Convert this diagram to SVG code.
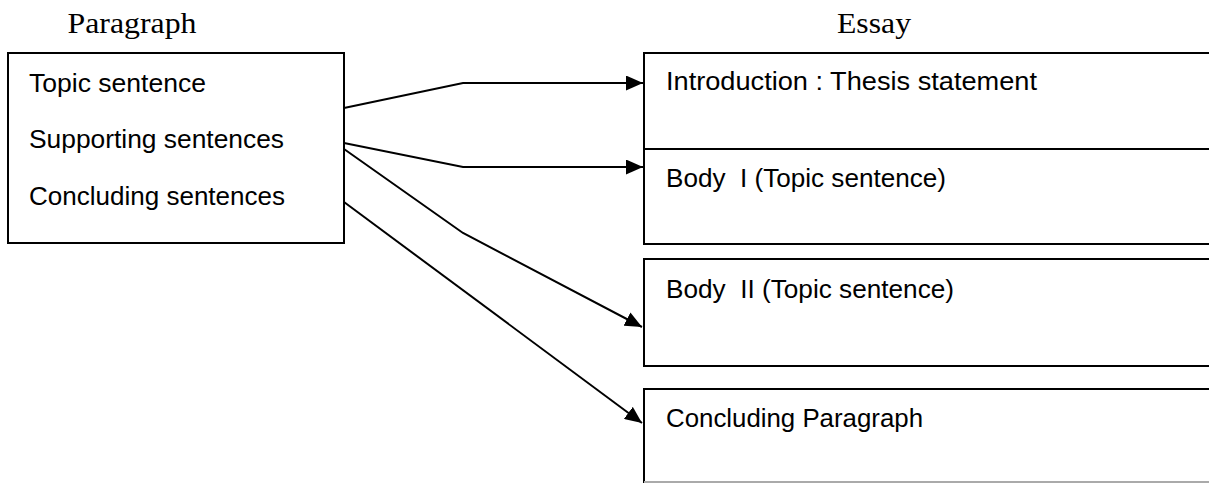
<svg xmlns="http://www.w3.org/2000/svg" width="1209" height="483" viewBox="0 0 1209 483">
<style>
.box{fill:none;stroke:#000;stroke-width:2}
.lbl{font-family:"Liberation Sans",Arial,sans-serif;font-size:25px;fill:#000}
.ttl{font-family:"Liberation Serif","Times New Roman",serif;font-size:29px;fill:#000}
.conn{fill:none;stroke:#000;stroke-width:2;marker-end:url(#ah)}
</style>
<defs>
<marker id="ah" markerUnits="userSpaceOnUse" markerWidth="17" markerHeight="15" refX="17" refY="7.5" orient="auto">
<path d="M0,0 L17,7.5 L0,15 z" fill="#000"/>
</marker>
</defs>
<rect width="1209" height="483" fill="#fff"/>
<text class="ttl" x="132" y="33" text-anchor="middle" textLength="129" lengthAdjust="spacingAndGlyphs">Paragraph</text>
<text class="ttl" x="874" y="33" text-anchor="middle" textLength="74" lengthAdjust="spacingAndGlyphs">Essay</text>
<g id="paragraph">
<rect class="box" x="8" y="53" width="336" height="190"/>
<text class="lbl" x="29" y="92" textLength="177" lengthAdjust="spacingAndGlyphs">Topic sentence</text>
<text class="lbl" x="29" y="148" textLength="255" lengthAdjust="spacingAndGlyphs">Supporting sentences</text>
<text class="lbl" x="29" y="205" textLength="256" lengthAdjust="spacingAndGlyphs">Concluding sentences</text>
</g>
<g id="introduction">
<rect class="box" x="644" y="53" width="580" height="96"/>
<text class="lbl" x="666" y="90" textLength="371" lengthAdjust="spacingAndGlyphs">Introduction : Thesis statement</text>
</g>
<g id="body1">
<rect class="box" x="644" y="149" width="580" height="95"/>
<text class="lbl" x="666" y="187" textLength="280" lengthAdjust="spacingAndGlyphs" xml:space="preserve">Body  I (Topic sentence)</text>
</g>
<g id="body2">
<rect class="box" x="644" y="259" width="580" height="107"/>
<text class="lbl" x="666" y="298" textLength="288" lengthAdjust="spacingAndGlyphs" xml:space="preserve">Body  II (Topic sentence)</text>
</g>
<g id="conclusion">
<path d="M644,483 L644,389 L1224,389" fill="none" stroke="#000" stroke-width="2"/>
<line x1="644" y1="482" x2="1209" y2="482" stroke="#aaa" stroke-width="2"/>
<text class="lbl" x="666" y="427" textLength="257" lengthAdjust="spacingAndGlyphs">Concluding Paragraph</text>
</g>
<g id="connectors">
<polyline class="conn" points="344,108 463,83 643,83"/>
<polyline class="conn" points="344,143 463,167 643,167"/>
<polyline class="conn" points="344,149 463,233 642,327"/>
<polyline class="conn" points="344,202 642,423"/>
</g>
</svg>
